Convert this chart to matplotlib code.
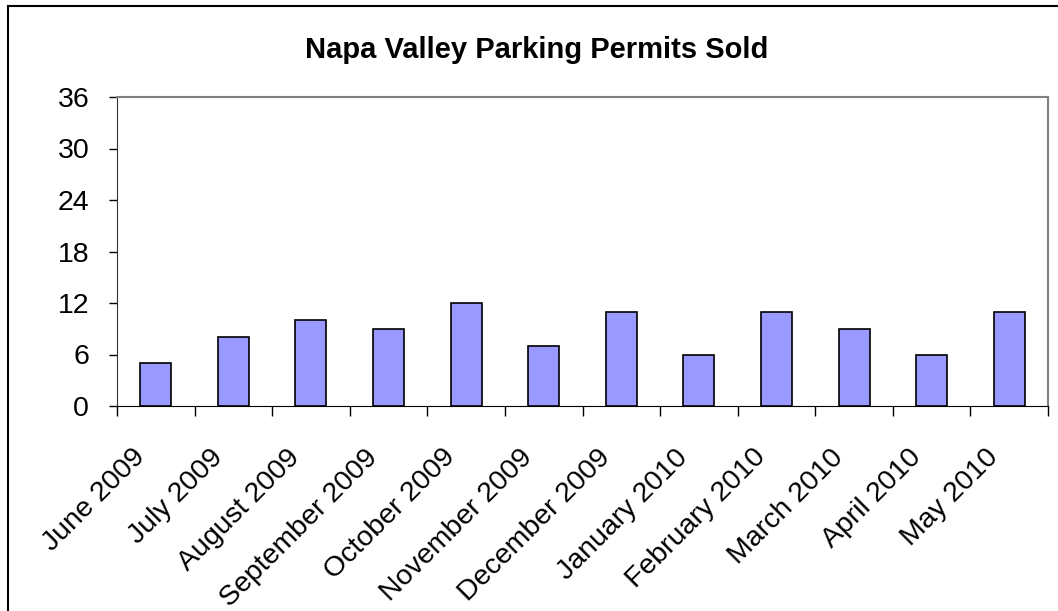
import numpy as np
import matplotlib.pyplot as plt
from matplotlib.patches import Rectangle
from matplotlib.transforms import ScaledTranslation

months = ["June 2009", "July 2009", "August 2009", "September 2009",
          "October 2009", "November 2009", "December 2009", "January 2010",
          "February 2010", "March 2010", "April 2010", "May 2010"]
permits = [5, 8, 10, 9, 12, 7, 11, 6, 11, 9, 6, 11]
yticks = [0, 6, 12, 18, 24, 30, 36]

plt.rcParams['font.family'] = ['Liberation Sans', 'DejaVu Sans']

fig = plt.figure(figsize=(10.58, 6.11), dpi=100)
# outer chart frame
fig.patches.append(Rectangle((8 / 1058, -0.1), 1.2, 1 - 6 / 611 + 0.1,
                             transform=fig.transFigure, fill=False,
                             edgecolor='black', linewidth=1.5))

ax = fig.add_axes([117 / 1058, 1 - 406 / 611, (1048 - 117) / 1058, (406 - 97) / 611])
x = np.arange(len(months))
ax.bar(x, permits, width=0.4, color='#9999ff', edgecolor='black', linewidth=1.2, zorder=3)

ax.set_xlim(-0.5, len(months) - 0.5)
ax.set_ylim(0, 36)
ax.set_yticks(yticks)
ax.tick_params(axis='y', direction='out', length=6, width=1, labelsize=20.5, pad=14)

ax.set_xticks(x)
ax.set_xticklabels(months, rotation=45, ha='right', va='top',
                   rotation_mode='anchor', fontsize=20.5)
ax.tick_params(axis='x', which='major', length=0, pad=27.5)
shift = ScaledTranslation(-24 / 100, 0, fig.dpi_scale_trans)
for lab in ax.get_xticklabels():
    lab.set_transform(lab.get_transform() + shift)
ax.set_xticks(np.arange(len(months) + 1) - 0.5, minor=True)
ax.tick_params(axis='x', which='minor', direction='out', length=7, width=1)

for s in ['top', 'right']:
    ax.spines[s].set_color('#808080')
    ax.spines[s].set_linewidth(1.5)
ax.spines['left'].set_color('#333333')
ax.spines['bottom'].set_color('black')

fig.text(537 / 1058, 1 - 50 / 611, "Napa Valley Parking Permits Sold",
         ha='center', va='center', fontsize=21, fontweight='bold')

fig.savefig('out.png', dpi=100)
